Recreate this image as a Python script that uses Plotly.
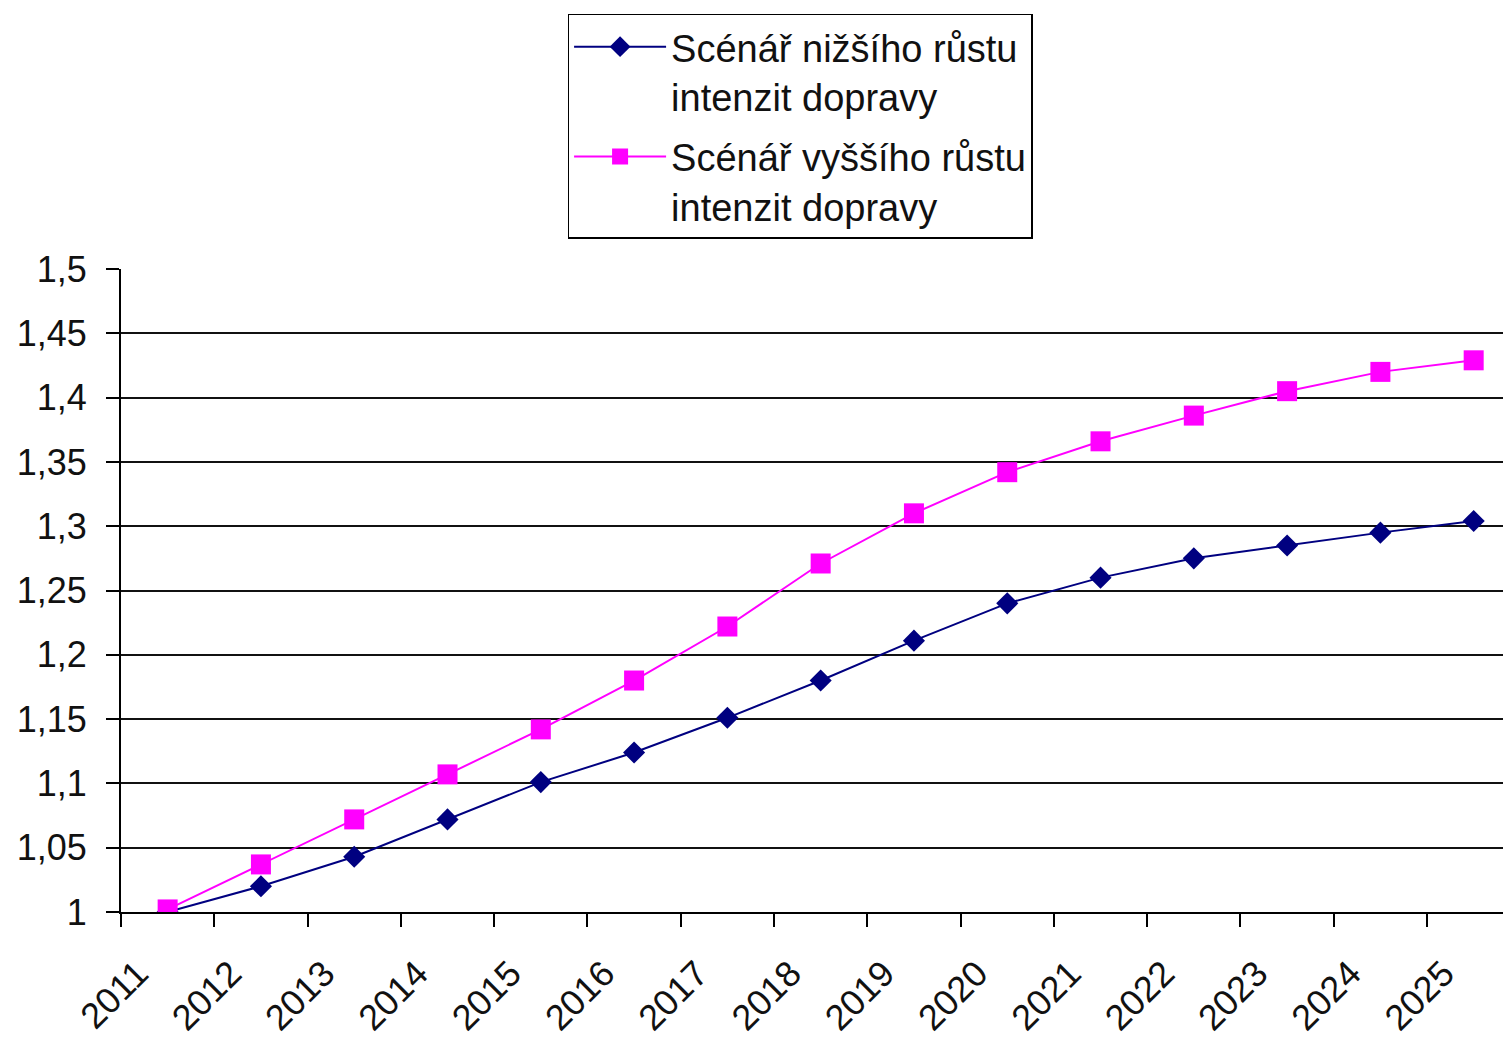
import plotly.graph_objects as go

years = [str(y) for y in range(2011, 2026)]
low_growth = [1.0, 1.02, 1.043, 1.072, 1.101, 1.124, 1.151, 1.18, 1.211, 1.24,
              1.26, 1.275, 1.285, 1.295, 1.304]
high_growth = [1.002, 1.037, 1.072, 1.107, 1.142, 1.18, 1.222, 1.271, 1.31, 1.342,
               1.366, 1.386, 1.405, 1.42, 1.429]
y_ticks = [1.0 + 0.05 * i for i in range(11)]

name_low = "Scénář nižšího růstu<br>intenzit dopravy"
name_high = "Scénář vyššího růstu<br>intenzit dopravy"

fig = go.Figure()
fig.add_trace(go.Scatter(
    x=years, y=low_growth, name=name_low, mode="lines+markers",
    line=dict(color="#000080", width=2),
    marker=dict(symbol="diamond", size=17, color="#000080"),
    legendgroup="a",
))
fig.add_trace(go.Scatter(
    x=years, y=high_growth, name=name_high, mode="lines+markers",
    line=dict(color="#FF00FF", width=2),
    marker=dict(symbol="square", size=20, color="#FF00FF"),
    legendgroup="b",
))

font_family = "Liberation Sans, Arial, sans-serif"

fig.update_layout(
    width=1503, height=1032,
    margin=dict(l=113, r=0, t=261, b=128, autoexpand=False),
    paper_bgcolor="white", plot_bgcolor="white",
    separators=", ",
    font=dict(family=font_family, size=36, color="#111"),
    showlegend=True,
    legend=dict(
        xref="container", yref="container",
        x=0.527, xanchor="center", y=0.9942, yanchor="top",
        bordercolor="black", borderwidth=1.5, bgcolor="white",
        font=dict(size=38, family=font_family, color="#111"),
        valign="top", itemwidth=92, tracegroupgap=8,
    ),
    xaxis=dict(
        type="category", range=[-0.5, 14.4], dtick=1,
        tickson="boundaries", ticks="outside", ticklen=13, tickwidth=2,
        tickcolor="black", tickangle=-45,
        ticklabelshift=-30, ticklabelstandoff=24,
        showline=True, linecolor="black", linewidth=2,
        showgrid=False, zeroline=False,
        tickfont=dict(size=36),
    ),
    yaxis=dict(
        range=[1.0, 1.5], tickvals=y_ticks, ticks="outside", ticklen=13,
        tickwidth=2, tickcolor="black", ticklabelstandoff=12,
        showline=True, linecolor="black", linewidth=2,
        showgrid=True, gridcolor="#111", gridwidth=1.5,
        zeroline=False, tickfont=dict(size=36),
    ),
)

fig.write_html("out.html")
